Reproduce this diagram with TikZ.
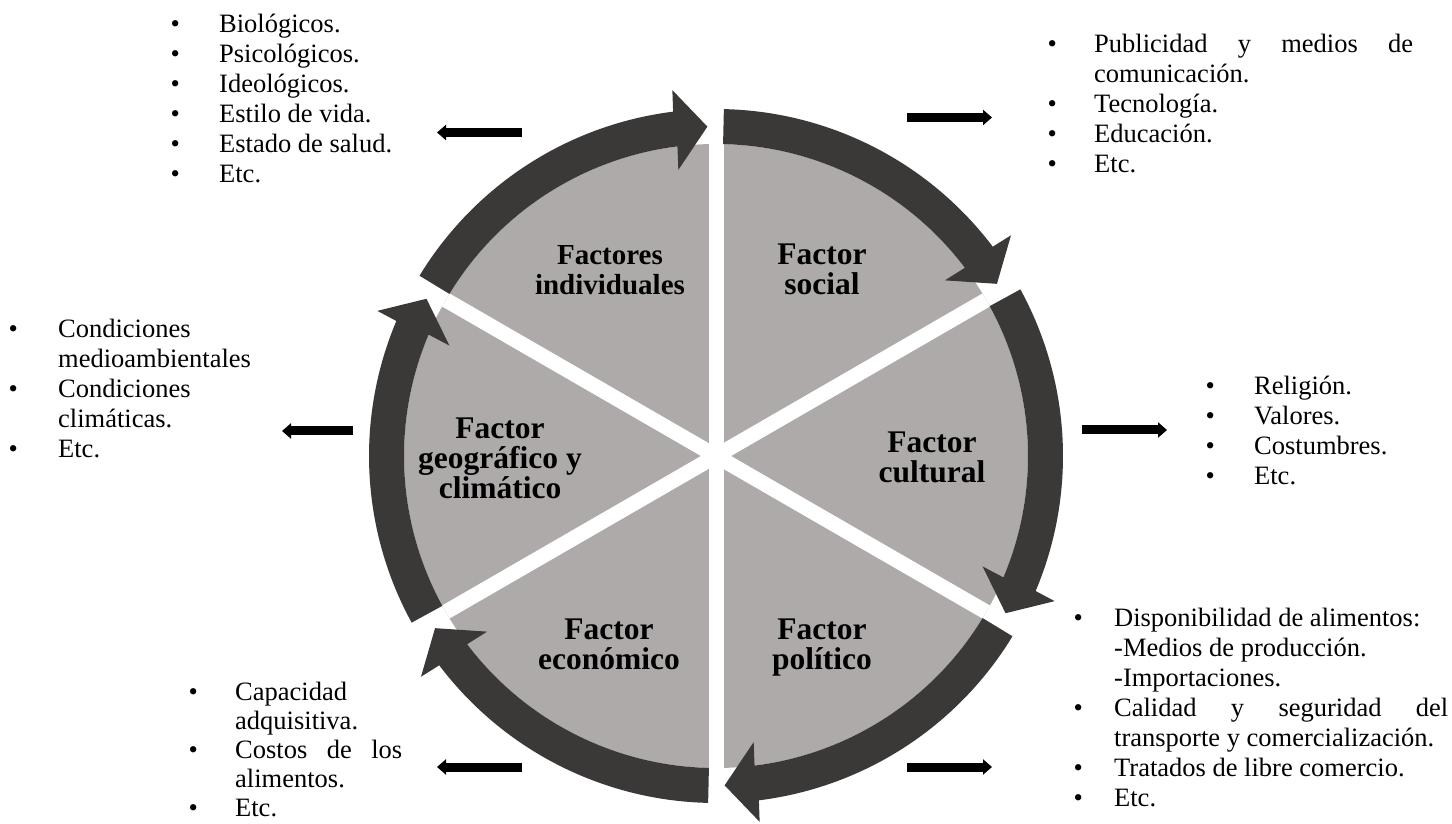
\documentclass[tikz,border=0pt]{standalone}
\usepackage{fontspec}
\setmainfont{Liberation Serif}
\usetikzlibrary{calc,arrows.meta}

\definecolor{ringgray}{RGB}{59,56,56}
\definecolor{sectorgray}{RGB}{174,170,170}

\newcommand{\bul}[1]{\makebox[#1][l]{\textbullet}}

\begin{document}
\begin{tikzpicture}[x=1pt, y=1pt,
    sector/.style={fill=sectorgray},
    gap/.style={draw=white, line width=15pt},
    ring/.style={fill=ringgray},
    factor/.style={font=\fontsize{31.5}{30}\selectfont\bfseries, align=center, inner sep=0pt},
    lista/.style={anchor=base west, inner sep=0pt, font=\fontsize{26.5}{30}\selectfont},
    flecha/.style={line width=9pt, -{Triangle[length=9pt,width=15pt]}}]
  \useasboundingbox (0,0) rectangle (1452,823);

  \begin{scope}[shift={(716,367)}]
    \fill[sector] (0,0) circle (312);
    \foreach \a in {90,30,-30}
      \draw[gap] (\a:312) -- (\a+180:312);
    \foreach \a in {150,90,...,-150} {
      \pgfmathsetmacro\ta{\a-1.3}
      \pgfmathsetmacro\tp{\a-60+1.5}
      \pgfmathsetmacro\hb{\tp+5.6}
      \pgfmathsetmacro\hm{(\hb+\tp)/2}
      \fill[ring] (\ta:347) arc[start angle=\ta, end angle=\hb, radius=347]
        -- ($(\hb:329.5)+(\hm:39)$) -- (\tp:329.5) -- ($(\hb:329.5)+(\hm:-41)$)
        -- (\hb:312) arc[start angle=\hb, end angle=\ta, radius=312] -- cycle;
    }
  \end{scope}

  \node[factor, font=\fontsize{29}{30}\selectfont\bfseries] (ind) at (610,552.6) {Factores\\individuales};
  \node[factor] (soc) at (822,553.4) {Factor\\social};
  \node[factor] (cul) at (932,366) {Factor\\cultural};
  \node[factor] (pol) at (822,175) {Factor\\político};
  \node[factor] (eco) at (609,178.5) {Factor\\económico};
  \node[factor] (geo) at (500,365.1) {Factor\\geográfico y\\climático};

  \node[lista] (lind) at (170.4,790) {\begin{tabular}[t]{@{}l@{}l@{}}
    \bul{48.6pt} & Biológicos.\\
    \bul{48.6pt} & Psicológicos.\\
    \bul{48.6pt} & Ideológicos.\\
    \bul{48.6pt} & Estilo de vida.\\
    \bul{48.6pt} & Estado de salud.\\
    \bul{48.6pt} & Etc.
  \end{tabular}};
  \node[lista] (lsoc) at (1047.4,770) {\begin{tabular}[t]{@{}l@{}l@{}}
    \bul{46.6pt} & \makebox[319pt][s]{Publicidad y medios de}\\
    & comunicación.\\
    \bul{46.6pt} & Tecnología.\\
    \bul{46.6pt} & Educación.\\
    \bul{46.6pt} & Etc.
  \end{tabular}};
  \node[lista] (lgeo) at (8.4,485) {\begin{tabular}[t]{@{}l@{}l@{}}
    \bul{49.6pt} & Condiciones\\
    & medioambientales\\
    \bul{49.6pt} & Condiciones\\
    & climáticas.\\
    \bul{49.6pt} & Etc.
  \end{tabular}};
  \node[lista] (lcul) at (1205.4,428) {\begin{tabular}[t]{@{}l@{}l@{}}
    \bul{48.6pt} & Religión.\\
    \bul{48.6pt} & Valores.\\
    \bul{48.6pt} & Costumbres.\\
    \bul{48.6pt} & Etc.
  \end{tabular}};
  \node[lista] (lpol) at (1073.4,196.5) {\begin{tabular}[t]{@{}l@{}l@{}}
    \bul{40.6pt} & Disponibilidad de alimentos:\\
    & -Medios de producción.\\
    & -Importaciones.\\
    \bul{40.6pt} & \makebox[334pt][s]{Calidad y seguridad del}\\
    & transporte y comercialización.\\
    \bul{40.6pt} & Tratados de libre comercio.\\
    \bul{40.6pt} & Etc.
  \end{tabular}};
  \node[lista, font=\fontsize{26.5}{29}\selectfont] (leco) at (188.4,123) {\begin{tabular}[t]{@{}l@{}l@{}}
    \bul{46.6pt} & Capacidad\\
    & adquisitiva.\\
    \bul{46.6pt} & \makebox[167pt][s]{Costos de los}\\
    & alimentos.\\
    \bul{46.6pt} & Etc.
  \end{tabular}};

  \coordinate (ind-a) at (522,690.5); \coordinate (ind-b) at (437,690.5);
  \coordinate (soc-a) at (907,705.5); \coordinate (soc-b) at (992,705.5);
  \coordinate (geo-a) at (353,392); \coordinate (geo-b) at (282,392);
  \coordinate (cul-a) at (1082,393); \coordinate (cul-b) at (1167,393);
  \coordinate (eco-a) at (522,56); \coordinate (eco-b) at (437,56);
  \coordinate (pol-a) at (907,56); \coordinate (pol-b) at (992,56);
  \draw[flecha] (ind-a) -- (ind-b);
  \draw[flecha] (soc-a) -- (soc-b);
  \draw[flecha] (geo-a) -- (geo-b);
  \draw[flecha] (cul-a) -- (cul-b);
  \draw[flecha] (eco-a) -- (eco-b);
  \draw[flecha] (pol-a) -- (pol-b);
\end{tikzpicture}
\end{document}
